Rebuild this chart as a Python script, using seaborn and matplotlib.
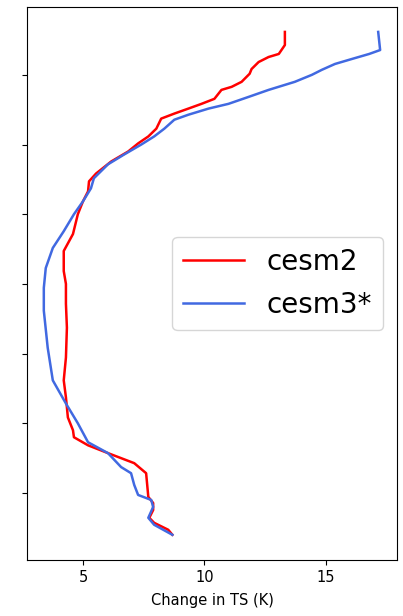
import matplotlib
matplotlib.use("Agg")
import matplotlib.pyplot as plt
import pandas as pd
import seaborn as sns

# Zonal mean surface temperature change
CESM2_LAT = [90.4, 85.7, 82.5, 81.4, 79.6, 77.1, 75.4, 72.5, 70.7, 69.6,
             66.4, 64.6, 62.9, 61.1, 59.3, 55.7, 52.9, 50.4, 47.5, 43.9,
             39.6, 36.8, 33.2, 29.6, 25.0, 17.9, 11.8, 4.6, 0.0, -7.1,
             -15.7, -26.4, -34.6, -40.7, -47.9, -52.5, -55.0, -57.9, -60.7, -62.1,
             -64.3, -67.9, -76.4, -78.6, -81.1, -83.9, -85.7, -88.2, -90.0]
CESM2_TS = [13.31, 13.31, 13.06, 12.64, 12.23, 11.94, 11.86, 11.53, 11.12, 10.70,
            10.41, 9.88, 9.34, 8.76, 8.22, 8.02, 7.69, 7.27, 6.86, 6.16,
            5.54, 5.25, 5.21, 5.00, 4.79, 4.59, 4.21, 4.21, 4.30, 4.30,
            4.34, 4.30, 4.21, 4.30, 4.38, 4.59, 4.63, 5.21, 6.03, 6.45,
            7.11, 7.60, 7.69, 7.89, 7.89, 7.73, 7.93, 8.51, 8.68]

CESM3_LAT = [90.4, 83.9, 82.5, 80.7, 78.9, 76.8, 75.0, 72.5, 69.6, 67.1,
             64.6, 62.9, 60.7, 58.9, 55.7, 52.9, 50.0, 46.4, 42.9, 37.9,
             34.3, 29.6, 25.0, 18.9, 12.9, 5.7, -1.4, -9.6, -22.9, -34.6,
             -42.9, -50.0, -56.8, -60.7, -65.7, -67.9, -72.1, -75.7, -77.5, -80.0,
             -83.9, -86.4, -90.0]
CESM3_TS = [17.15, 17.23, 16.78, 16.07, 15.37, 14.83, 14.42, 13.72, 12.64, 11.82,
            10.99, 10.17, 9.34, 8.76, 8.35, 7.93, 7.40, 6.69, 6.03, 5.45,
            5.33, 5.00, 4.63, 4.21, 3.76, 3.47, 3.39, 3.39, 3.55, 3.76,
            4.30, 4.79, 5.21, 6.03, 6.57, 6.98, 7.11, 7.27, 7.81, 7.89,
            7.69, 7.93, 8.68]

LAT_TICKS = [-75, -50, -25, 0, 25, 50, 75]
TS_TICKS = [5, 10, 15]

fig = plt.figure(figsize=(4.03, 6.16), dpi=100)
ax = fig.add_axes([0.067, 0.091, 0.918, 0.898])

df2 = pd.DataFrame({"lat": CESM2_LAT, "ts": CESM2_TS})
df3 = pd.DataFrame({"lat": CESM3_LAT, "ts": CESM3_TS})

sns.lineplot(data=df2, x="ts", y="lat", sort=False, estimator=None,
             color="red", linewidth=1.8, label="cesm2", ax=ax)
sns.lineplot(data=df3, x="ts", y="lat", sort=False, estimator=None,
             color="royalblue", linewidth=1.8, label="cesm3*", ax=ax)

ax.set_yticks(LAT_TICKS)
ax.set_yticklabels([])
ax.set_xticks(TS_TICKS)
ax.tick_params(axis="x", labelsize=10.5)
ax.set_xlabel("Change in TS (K)", fontsize=10.5, labelpad=6)
ax.set_ylabel("")
ax.legend(loc="center right", fontsize=20, handlelength=2.2,
          labelspacing=0.55)

fig.savefig("out.png", dpi=100)
